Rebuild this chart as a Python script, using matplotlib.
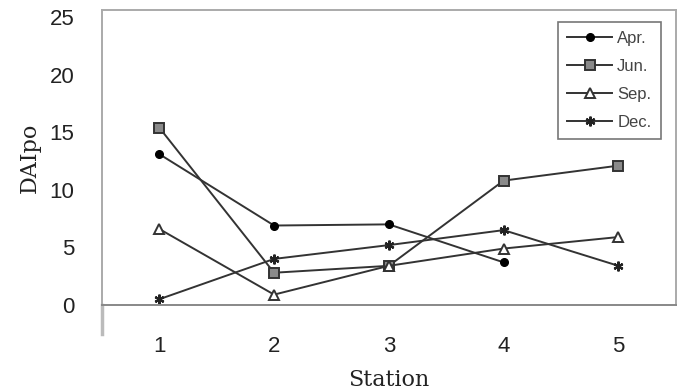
import numpy as np
import matplotlib
matplotlib.use("Agg")
import matplotlib.pyplot as plt

# --- data ---
stations = [1, 2, 3, 4, 5]
apr = [13.1, 6.9, 7.0, 3.7, np.nan]
jun = [15.4, 2.8, 3.4, 10.8, 12.1]
sep = [6.6, 0.9, 3.4, 4.9, 5.9]
dec = [0.5, 4.0, 5.2, 6.5, 3.4]
series_names = ["Apr.", "Jun.", "Sep.", "Dec."]

fig = plt.figure(figsize=(6.84, 3.92), dpi=100)
ax = fig.add_axes([0.149, 0.222, 0.839, 0.752])

line_col = "#333333"
ax.plot(stations, apr, color=line_col, lw=1.4, marker="o", ms=5.5,
        mfc="black", mec="black", label=series_names[0])
ax.plot(stations, jun, color=line_col, lw=1.4, marker="s", ms=7,
        mfc="#8a8a8a", mec="#333333", mew=1.4, label=series_names[1])
ax.plot(stations, sep, color=line_col, lw=1.4, marker="^", ms=7,
        mfc="white", mec="#333333", mew=1.4, label=series_names[2])
ax.plot(stations, dec, color=line_col, lw=1.4, marker=(6, 2, 0), ms=7,
        mec="#222222", mew=1.6, label=series_names[3])

ax.set_xlim(0.5, 5.5)
ax.set_ylim(0, 25.6)
ax.set_yticks([0, 5, 10, 15, 20, 25])
ax.set_xticks(stations)

tick_font = {"family": "Liberation Sans", "size": 16}
ax.set_xticklabels([str(s) for s in stations], fontdict=tick_font, color="#222222")
ax.set_yticklabels(["0", "5", "10", "15", "20", "25"], fontdict=tick_font, color="#222222")
ax.tick_params(axis="both", length=0)
ax.tick_params(axis="x", pad=22)
ax.tick_params(axis="y", pad=20)

for s in ax.spines.values():
    s.set_color("#aaaaaa")
    s.set_linewidth(1.4)
ax.spines["bottom"].set_color("#888888")

# left axis line runs a bit below the zero line
ax.plot([0, 0], [-0.1, 0], transform=ax.transAxes, color="#bbbbbb",
        lw=2.5, clip_on=False)

ax.set_xlabel("Station", family="DejaVu Serif", fontsize=16, color="#222222",
              labelpad=9)
ax.set_ylabel("DAIpo", family="DejaVu Serif", fontsize=16, color="#222222",
              labelpad=6)

leg = ax.legend(loc="upper right", bbox_to_anchor=(0.988, 0.988),
                prop={"family": "Liberation Sans", "size": 12},
                frameon=True, fancybox=False, edgecolor="#555555",
                handlelength=2.7, borderpad=0.55, labelspacing=0.78,
                handletextpad=0.3)
leg.get_frame().set_linewidth(1.2)
for t in leg.get_texts():
    t.set_color("#444444")

fig.savefig("out.png", dpi=100)
